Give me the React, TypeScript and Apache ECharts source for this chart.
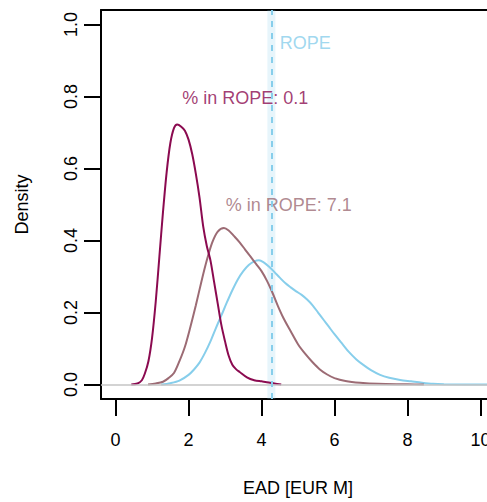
import React, { useEffect, useRef } from "react";
import * as echarts from "echarts";

// Density curves (x, density)
const maroonX = [0.43, 0.6, 0.72, 0.8, 0.9, 1.0, 1.1, 1.2, 1.3, 1.4, 1.5, 1.6, 1.69, 1.8, 1.9, 2.0, 2.1, 2.2, 2.3, 2.4, 2.5, 2.6, 2.7, 2.8, 2.9, 3.0, 3.1, 3.2, 3.3, 3.4, 3.6, 3.8, 4.0, 4.2, 4.35, 4.54];
const maroonY = [0, 0.003, 0.012, 0.03, 0.065, 0.13, 0.23, 0.355, 0.48, 0.59, 0.67, 0.712, 0.722, 0.716, 0.705, 0.68, 0.64, 0.585, 0.52, 0.44, 0.385, 0.345, 0.285, 0.225, 0.165, 0.12, 0.08, 0.055, 0.043, 0.035, 0.02, 0.012, 0.009, 0.006, 0.003, 0];

const rosyX = [0.89, 1.1, 1.3, 1.45, 1.6, 1.75, 1.9, 2.05, 2.2, 2.35, 2.5, 2.65, 2.8, 2.97, 3.1, 3.25, 3.4, 3.55, 3.7, 3.85, 4.0, 4.15, 4.3, 4.45, 4.6, 4.8, 5.0, 5.2, 5.4, 5.6, 5.8, 6.0, 6.3, 6.7, 7.2, 8.0, 8.45];
const rosyY = [0, 0.003, 0.008, 0.018, 0.032, 0.065, 0.105, 0.16, 0.22, 0.285, 0.345, 0.395, 0.425, 0.435, 0.428, 0.412, 0.395, 0.375, 0.355, 0.335, 0.315, 0.288, 0.255, 0.218, 0.185, 0.148, 0.112, 0.085, 0.062, 0.042, 0.028, 0.018, 0.01, 0.005, 0.002, 0.001, 0];

const skyX = [1.25, 1.5, 1.75, 2.0, 2.15, 2.3, 2.45, 2.6, 2.75, 2.9, 3.05, 3.2, 3.35, 3.5, 3.65, 3.8, 3.93, 4.05, 4.2, 4.35, 4.5, 4.65, 4.8, 4.95, 5.1, 5.25, 5.4, 5.55, 5.7, 5.85, 6.0, 6.2, 6.4, 6.6, 6.8, 7.0, 7.25, 7.5, 7.8, 8.1, 8.4, 8.7, 9.0, 10.4];
const skyY = [0, 0.004, 0.011, 0.027, 0.042, 0.061, 0.088, 0.12, 0.157, 0.192, 0.228, 0.262, 0.292, 0.315, 0.332, 0.342, 0.345, 0.34, 0.328, 0.313, 0.297, 0.282, 0.27, 0.259, 0.249, 0.236, 0.22, 0.2, 0.18, 0.16, 0.14, 0.115, 0.09, 0.07, 0.054, 0.04, 0.027, 0.019, 0.013, 0.009, 0.005, 0.002, 0.001, 0];

// ROPE
const ropeLow = 4.16;
const ropeHigh = 4.38;
const ropeMid = 4.27;

// Text annotations
const annText = ["% in ROPE: 0.1", "% in ROPE: 7.1", "ROPE"];
const annX = [3.556, 4.745, 5.197];
const annY = [0.795, 0.498, 0.948];
const annColor = ["#8B0A50", "#9C6B74", "#87CEEB"];

// Ticks
const xTicks = [0, 2, 4, 6, 8, 10];
const yTicks = [0, 0.2, 0.4, 0.6, 0.8, 1.0];

const FONT = "'Liberation Sans', Arial, Helvetica, sans-serif";

export default function App() {
  const ref = useRef<HTMLDivElement>(null);
  useEffect(() => {
    const chart = echarts.init(ref.current!, null, { renderer: "svg" });
    const axisLine = { show: true, onZero: false, lineStyle: { color: "#000", width: 2 } };
    const toPairs = (xs: number[], ys: number[]) => xs.map((x, i) => [x, ys[i]]);
    const curve = (name: string, xs: number[], ys: number[], color: string) => ({
      name,
      type: "line",
      data: toPairs(xs, ys),
      symbol: "none",
      showSymbol: false,
      smooth: 0.3,
      silent: true,
      z: 3,
      lineStyle: { color, width: 2 },
    });
    chart.setOption({
      animation: false,
      backgroundColor: "#fff",
      textStyle: { fontFamily: FONT },
      grid: { left: 101, top: 10, width: 394, height: 394 },
      xAxis: [
        {
          type: "value",
          position: "bottom",
          min: -0.4,
          max: 10.4,
          splitLine: { show: false },
          axisLine,
          axisTick: { show: true, customValues: xTicks, length: 17, lineStyle: { color: "#000", width: 2 } },
          axisLabel: { customValues: xTicks, margin: 32, fontSize: 18, color: "#000", fontFamily: FONT },
          name: "EAD [EUR M]",
          nameLocation: "middle",
          nameGap: 80,
          nameTextStyle: { fontSize: 18, color: "#000", fontFamily: FONT },
        },
        {
          type: "value",
          position: "top",
          min: -0.4,
          max: 10.4,
          splitLine: { show: false },
          axisLine,
          axisTick: { show: false },
          axisLabel: { show: false },
        },
      ],
      yAxis: [
        {
          type: "value",
          position: "left",
          min: -0.04,
          max: 1.04,
          splitLine: { show: false },
          axisLine,
          axisTick: { show: true, customValues: yTicks, length: 17, lineStyle: { color: "#000", width: 2 } },
          axisLabel: {
            customValues: yTicks,
            rotate: 90,
            margin: 21,
            fontSize: 18,
            color: "#000",
            fontFamily: FONT,
            formatter: (v: number) => v.toFixed(1),
          },
          name: "Density",
          nameLocation: "middle",
          nameRotate: 90,
          nameGap: 70,
          nameTextStyle: { fontSize: 18, color: "#000", fontFamily: FONT },
        },
        {
          type: "value",
          position: "right",
          min: -0.04,
          max: 1.04,
          splitLine: { show: false },
          axisLine,
          axisTick: { show: false },
          axisLabel: { show: false },
        },
      ],
      series: [
        {
          name: "rope",
          type: "line",
          data: [],
          z: 1,
          silent: true,
          markArea: {
            silent: true,
            itemStyle: { color: "rgba(135,206,235,0.2)" },
            data: [[{ xAxis: ropeLow }, { xAxis: ropeHigh }]],
          },
          markLine: {
            silent: true,
            symbol: "none",
            label: { show: false },
            data: [
              { yAxis: 0, lineStyle: { color: "#C4C4C4", width: 1.5, type: "solid" } },
              { xAxis: ropeMid, lineStyle: { color: "#87CEEB", width: 2, type: [6, 6] } },
            ],
          },
        },
        curve("sky", skyX, skyY, "#87CEEB"),
        curve("rosy", rosyX, rosyY, "#9C6B74"),
        curve("maroon", maroonX, maroonY, "#8B0A50"),
        ...annText.map((t, i) => ({
          type: "scatter",
          silent: true,
          z: 4,
          symbolSize: 0.1,
          itemStyle: { color: "transparent" },
          data: [[annX[i], annY[i]]],
          label: {
            show: true,
            position: "inside",
            formatter: t,
            fontSize: 18,
            color: annColor[i],
            fontFamily: FONT,
          },
        })),
      ],
    });
    return () => chart.dispose();
  }, []);
  return (
    <div
      ref={ref}
      style={{ position: "fixed", left: 0, top: 0, width: 520, height: 502, background: "#fff" }}
    />
  );
}
